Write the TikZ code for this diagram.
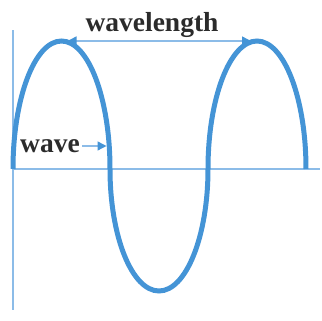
\documentclass[tikz,border=0pt]{standalone}
\usepackage{fontspec}
\setmainfont{Liberation Serif}
\usetikzlibrary{arrows.meta}

\definecolor{waveblue}{HTML}{4494D6}
\definecolor{axisblue}{HTML}{8CBCE8}
\definecolor{labelgray}{HTML}{2B2B2B}

\begin{document}
\begin{tikzpicture}[x=0.5pt,y=0.5pt,
  axis/.style={axisblue,line width=0.7pt},
  wavecurve/.style={waveblue,line width=2.5pt},
  tip/.tip={Triangle[length=4.5pt,width=4.5pt,color=waveblue]},
  measure/.style={axisblue,line width=0.7pt},
  lbl/.style={text=labelgray,font=\fontsize{13.75}{16}\bfseries\selectfont,inner sep=0pt}]

\useasboundingbox (0,0) rectangle (322,321);

% ============================================================
% AXES
% ============================================================
\coordinate (O) at (13,152);
\coordinate (Ytop) at (13,291);
\coordinate (Ybot) at (13,11);
\coordinate (Xend) at (320,152);

\draw[axis] (Ybot) -- (Ytop);
\draw[axis] (O) -- (Xend);

% ============================================================
% WAVE (half ellipses)
% ============================================================
\coordinate (Peak1) at (61.5,280);
\coordinate (Peak2) at (257,280);
\coordinate (Hit) at (106.5,175);

\draw[wavecurve] (O)
  arc[start angle=180,end angle=0,x radius=48.5,y radius=128]
  arc[start angle=180,end angle=360,x radius=49,y radius=122]
  arc[start angle=180,end angle=0,x radius=49,y radius=128];

% ============================================================
% LABELS
% ============================================================
\node[lbl] (wavelength) at (152,296) {wavelength};
\node[lbl] (wave) at (50,175) {wave};

\draw[measure,tip-tip,shorten <=3pt,shorten >=3pt] (Peak1) -- (Peak2);
\draw[measure,-tip,shorten <=1pt] (wave.east) -- (Hit);

\end{tikzpicture}
\end{document}
